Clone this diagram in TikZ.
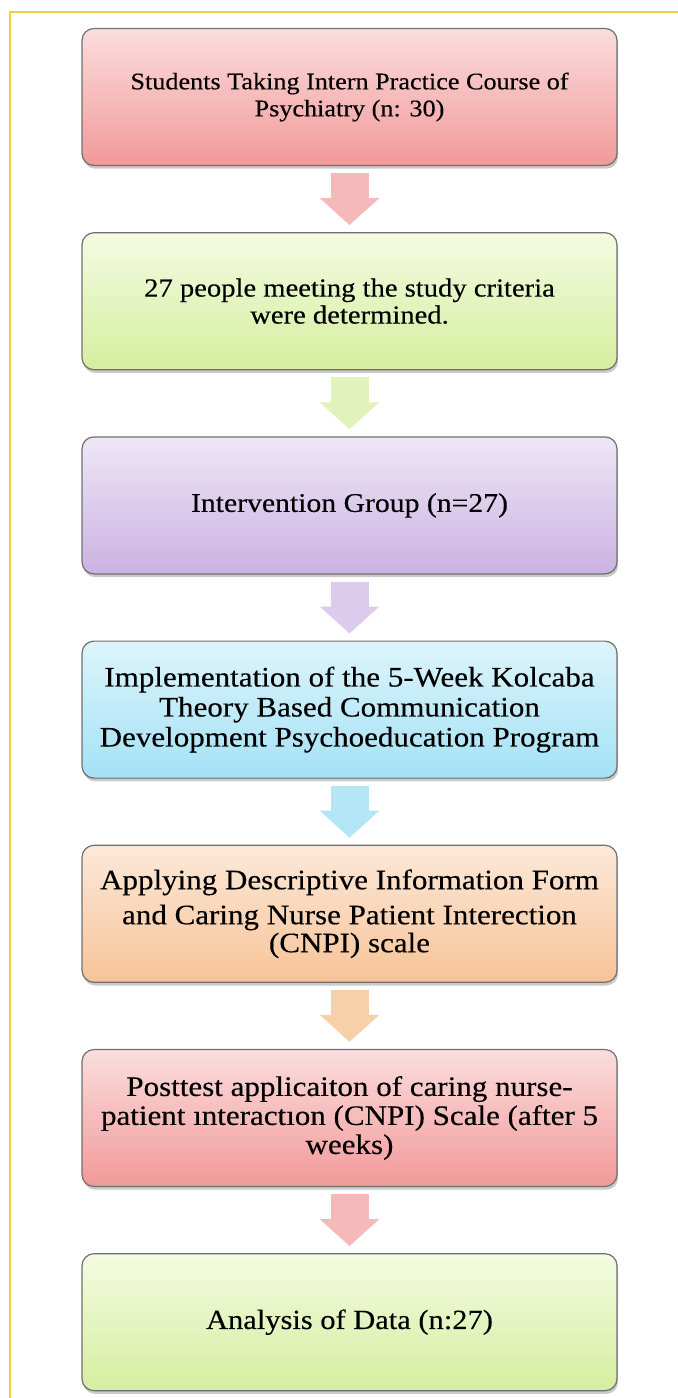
\documentclass[tikz,border=0pt]{standalone}
\usepackage{fontspec}
\setmainfont{Liberation Serif}[FakeStretch=1.1, FakeBold=0.3]
\usepackage{tikz}
\usetikzlibrary{positioning,arrows.meta,shadows}
\definecolor{frameyellow}{HTML}{FACC3A}
\definecolor{boxline}{HTML}{707070}
\definecolor{redtop}{HTML}{FBDDDD}
\definecolor{redbot}{HTML}{F29999}
\definecolor{greentop}{HTML}{F4FBE2}
\definecolor{greenbot}{HTML}{D5EE9E}
\definecolor{purpletop}{HTML}{EEE6F6}
\definecolor{purplebot}{HTML}{CBB2E2}
\definecolor{cyantop}{HTML}{DDF4FB}
\definecolor{cyanbot}{HTML}{A4E2F5}
\definecolor{orangetop}{HTML}{FCE9D9}
\definecolor{orangebot}{HTML}{F7C398}
\definecolor{redarr}{HTML}{F6B9B9}
\definecolor{greenarr}{HTML}{E1F2BA}
\definecolor{purplearr}{HTML}{DCCBEC}
\definecolor{cyanarr}{HTML}{B3E7F6}
\definecolor{orangearr}{HTML}{F8D0A8}

\begin{document}
\begin{tikzpicture}[
    box/.style={draw=boxline, line width=0.6pt, rounded corners=6pt, minimum width=267.5pt, minimum height=68.5pt, align=center, inner sep=2pt,
      drop shadow={shadow xshift=0.6pt, shadow yshift=-1.6pt, opacity=0.35, fill=black!60}},
    arr/.style={line width=19pt, -{Triangle[length=13.5pt, width=29pt]}, shorten <=3.5pt, shorten >=3.5pt},
    node distance=33pt
  ]
    \useasboundingbox (0,0) rectangle (339pt,-699pt);
    \draw[frameyellow, line width=0.8pt] (339pt,-6pt) -| (5pt,-699pt);

    \node[box, top color=redtop, bottom color=redbot, font=\fontsize{11.9}{13.5}\selectfont] (students) at (174.75pt,-48.5pt) {Students Taking Intern Practice Course of\\Psychiatry (n: 30)};
    \node[box, top color=greentop, bottom color=greenbot, font=\fontsize{13}{13.5}\selectfont, below=of students] (criteria) {27 people meeting the study criteria\\were determined.};
    \node[box, top color=purpletop, bottom color=purplebot, font=\fontsize{13.5}{14}\selectfont, below=of criteria] (group) {Intervention Group (n=27)};
    \node[box, top color=cyantop, bottom color=cyanbot, font=\fontsize{14.1}{15}\selectfont, below=of group] (program) {Implementation of the 5-Week Kolcaba\\Theory Based Communication\\Development Psychoeducation Program};
    \node[box, top color=orangetop, bottom color=orangebot, font=\fontsize{14.1}{14}\selectfont, below=of program] (forms) {Applying Descriptive Information Form\\[3.5pt]and Caring Nurse Patient Interection\\(CNPI) scale};
    \node[box, top color=redtop, bottom color=redbot, font=\fontsize{14.1}{14.5}\selectfont, below=of forms] (posttest) {Posttest applicaiton of caring nurse-\\patient ınteractıon (CNPI) Scale (after 5\\weeks)};
    \node[box, top color=greentop, bottom color=greenbot, font=\fontsize{13.85}{14}\selectfont, below=of posttest] (analysis) {Analysis of Data (n:27)};

    \draw[arr, redarr] (students) -- (criteria);
    \draw[arr, greenarr] (criteria) -- (group);
    \draw[arr, purplearr] (group) -- (program);
    \draw[arr, cyanarr] (program) -- (forms);
    \draw[arr, orangearr] (forms) -- (posttest);
    \draw[arr, redarr] (posttest) -- (analysis);
  \end{tikzpicture}
\end{document}
